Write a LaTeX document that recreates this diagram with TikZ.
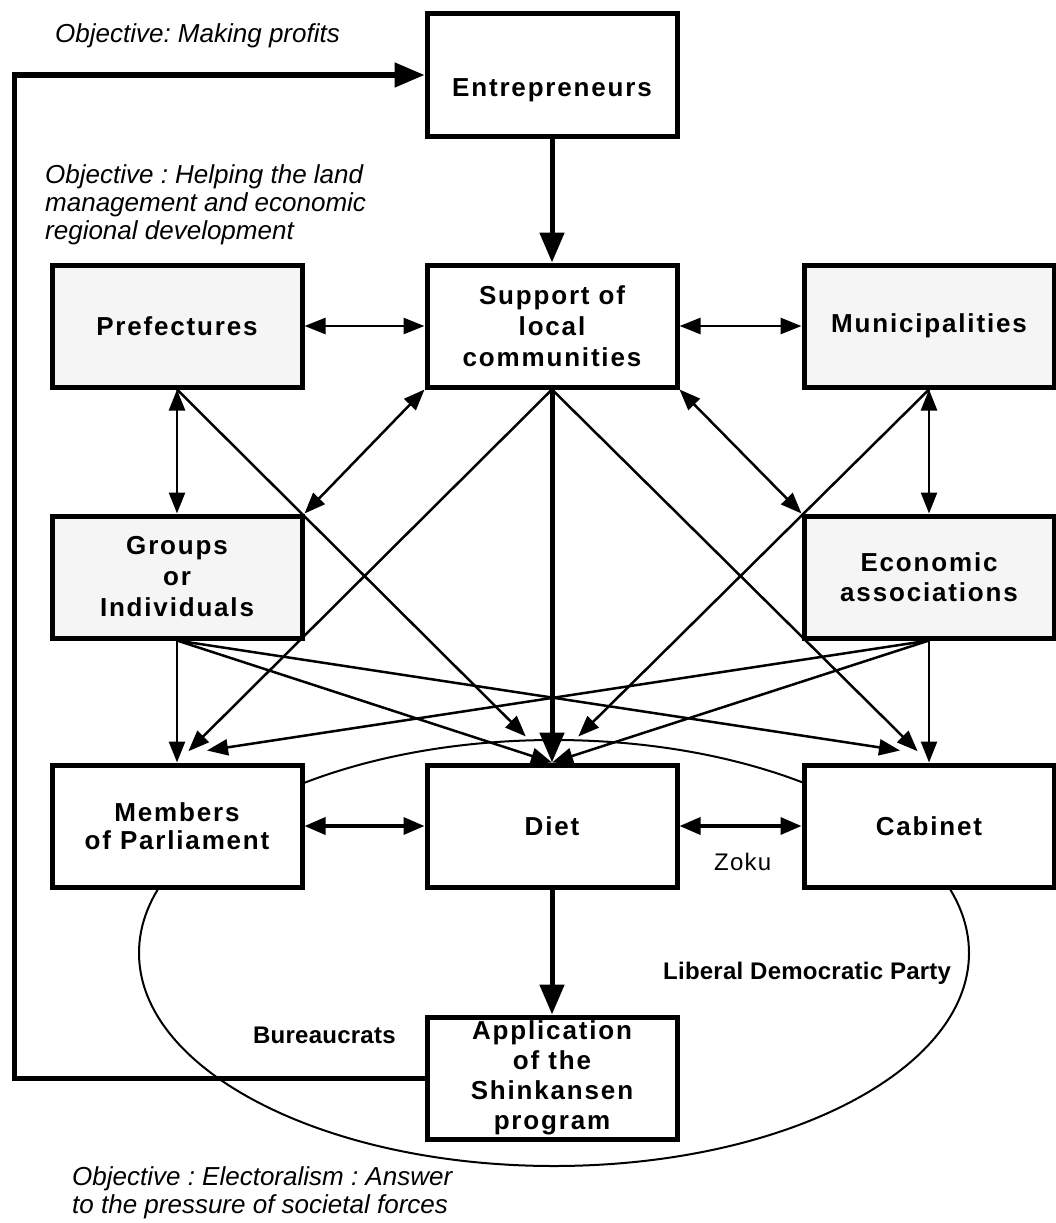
\documentclass[tikz,border=0pt]{standalone}
\usepackage{fontspec}
\setmainfont{Liberation Sans}
\newfontfamily\lblfont{Liberation Sans}[LetterSpace=7]
\newfontfamily\notefont{Liberation Sans}[LetterSpace=1]
\newfontfamily\zokufont{Liberation Sans}[LetterSpace=5]
\usetikzlibrary{arrows.meta,calc}
\definecolor{boxgray}{RGB}{245,245,245}
\frenchspacing
\begin{document}
\begin{tikzpicture}[x=1pt,y=-1pt,
  box/.style={draw, line width=5pt, minimum width=250pt, minimum height=122pt,
    fill=white, align=center, inner sep=0pt,
    font=\lblfont\bfseries\fontsize{26}{30}\selectfont},
  graybox/.style={box, fill=boxgray},
  conn/.style={line width=2.5pt, -{Triangle[length=21pt,width=16pt]}},
  bconn/.style={line width=2.5pt, {Triangle[length=21pt,width=16pt]}-{Triangle[length=21pt,width=16pt]}},
  midconn/.style={line width=3.5pt, {Triangle[length=21pt,width=17pt]}-{Triangle[length=21pt,width=17pt]}},
  thickconn/.style={line width=5pt, -{Triangle[length=30pt,width=24pt]}},
  obj/.style={font=\frenchspacing\itshape\fontsize{26}{28}\selectfont, align=left, inner sep=0pt},
  note/.style={font=\notefont\bfseries\fontsize{24}{26}\selectfont, inner sep=0pt}
]
\useasboundingbox (0,0) rectangle (1056,1223);

% party ellipse
\draw[line width=2pt] (554,953) ellipse [x radius=415, y radius=213];

% boxes
\node[box, text height=42pt, text depth=0pt] (Entre) at (552,75) {Entrepreneurs};
\node[graybox] (Pref) at (177,326) {Prefectures};
\node[box, font=\lblfont\bfseries\fontsize{26}{31}\selectfont] (Supp) at (552,326) {Support of\\local\\communities};
\node[graybox] (Muni) at (929,326) {Municipalities};
\node[graybox, font=\lblfont\bfseries\fontsize{26}{31}\selectfont] (Grp) at (177,577) {Groups\\or\\Individuals};
\node[graybox] (Econ) at (929,577) {Economic\\associations};
\node[box, font=\lblfont\bfseries\fontsize{26}{28}\selectfont] (MP) at (177,826) {Members\\of Parliament};
\node[box] (Diet) at (552,826) {Diet};
\node[box] (Cab) at (929,826) {Cabinet};
\node[box] (App) at (552,1078) {Application\\of the\\Shinkansen\\program};

% texts
\node[obj, anchor=base west] (o1) at (55,43) {Objective: Making profits};
\node[obj, anchor=north west] (o2) at (45,164) {Objective : Helping the land\\management and economic\\regional development};
\node[obj, anchor=north west] (o3) at (72,1166) {Objective : Electoralism : Answer\\to the pressure of societal forces};
\node[note, anchor=base west] (bur) at (253,1043) {Bureaucrats};
\node[note, anchor=base west] (ldp) at (663,979) {Liberal Democratic Party};
\node[font=\zokufont\fontsize{24}{26}\selectfont, inner sep=0pt, anchor=base west] (zoku) at (714,870) {Zoku};

% feedback loop
\coordinate (fbx) at (14,0);
\draw[thickconn, line join=miter] (App.west) -- (App.west -| fbx) |- (Entre.west);

% thick flows
\draw[thickconn] (Entre) -- (Supp);
\draw[thickconn] (Supp.south) -- (Diet.north);
\draw[thickconn] (Diet) -- (App);

% two-way links
\draw[bconn] (Pref) -- (Supp);
\draw[bconn] (Supp) -- (Muni);
\draw[bconn] (Pref) -- (Grp);
\draw[bconn] (Muni) -- (Econ);
\draw[bconn] (Supp.south west) -- (Grp.north east);
\draw[bconn] (Supp.south east) -- (Econ.north west);
\draw[midconn] (MP) -- (Diet);
\draw[midconn] (Diet) -- (Cab);

% one-way links
\draw[conn, shorten >=37pt] (Pref.south) -- (Diet.north);
\draw[conn, shorten >=37pt] (Muni.south) -- (Diet.north);
\draw[conn, shorten >=16pt] (Supp.south) -- (MP.north);
\draw[conn, shorten >=16pt] (Supp.south) -- (Cab.north);
\draw[conn] (Grp.south) -- (MP.north);
\draw[conn] (Grp.south) -- (Diet.north);
\draw[conn] (Grp.south) -- ($(Cab.north)+(-29,-12)$);
\draw[conn] (Econ.south) -- (Cab.north);
\draw[conn] (Econ.south) -- (Diet.north);
\draw[conn] (Econ.south) -- ($(MP.north)+(30,-12)$);
\end{tikzpicture}
\end{document}
